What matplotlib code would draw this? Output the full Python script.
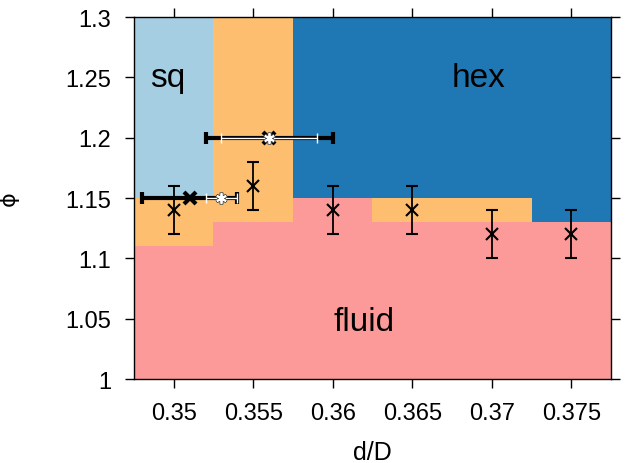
import matplotlib
matplotlib.use("Agg")
import matplotlib.pyplot as plt

plt.rcParams['font.family'] = ['Liberation Sans', 'DejaVu Sans']

# phase diagram columns (cell centres in d/D)
col_x = [0.35, 0.355, 0.36, 0.365, 0.37, 0.375]
fluid_top = [1.11, 1.13, 1.15, 1.13, 1.13, 1.13]
coex_top = [1.15, 1.30, 1.15, 1.15, 1.15, 1.13]
solid_phase = ['sq', 'sq', 'hex', 'hex', 'hex', 'hex']
phi_min, phi_max = 1.0, 1.3

colors = {'fluid': '#fb9a99', 'coex': '#fdbf6f', 'sq': '#a6cee3', 'hex': '#1f78b4'}

# vertical error bar points
pts_x = [0.35, 0.355, 0.36, 0.365, 0.37, 0.375]
pts_y = [1.14, 1.16, 1.14, 1.14, 1.12, 1.12]
pts_err = [0.02, 0.02, 0.02, 0.02, 0.02, 0.02]

# horizontal error bars (black: wide estimate, white: narrow estimate)
hb_y = [1.15, 1.20]
hb_black_x = [0.351, 0.356]
hb_black_err = [0.003, 0.004]
hb_white_x = [0.353, 0.356]
hb_white_err = [0.001, 0.003]

labels = ['sq', 'hex', 'fluid']
label_x = [0.3496, 0.3692, 0.362]
label_y = [1.243, 1.243, 1.041]

fig = plt.figure(figsize=(6.29, 4.64), dpi=100)
ax = fig.add_axes([0.2130, 0.181, 0.7584, 0.7802])

w = 0.005
fb = [f - phi_min for f in fluid_top]
ax.bar(col_x, fb, width=w, bottom=phi_min, color=colors['fluid'], linewidth=0)
cb = [c - f for c, f in zip(coex_top, fluid_top)]
ax.bar(col_x, cb, width=w, bottom=fluid_top, color=colors['coex'], linewidth=0)
sb = [phi_max - c for c in coex_top]
ax.bar(col_x, sb, width=w, bottom=coex_top, color=[colors[p] for p in solid_phase], linewidth=0)

ax.errorbar(pts_x, pts_y, yerr=pts_err, fmt='x', color='black', ecolor='black',
            elinewidth=1.3, capsize=4.5, capthick=1.3, markersize=8, mew=1.5, zorder=3)

ax.errorbar(hb_black_x, hb_y, xerr=hb_black_err, fmt='x', color='black', ecolor='black',
            elinewidth=3, capsize=4.5, capthick=3, markersize=8, mew=3, zorder=4)
ax.errorbar(hb_white_x, hb_y, xerr=hb_white_err, fmt='none', ecolor='white',
            elinewidth=1, capsize=3.5, capthick=1, zorder=5)
ax.plot(hb_white_x, hb_y, linestyle='none', marker=(6, 2, 0), markersize=8.5,
        mew=2.6, color='#555555', zorder=5)
ax.plot(hb_white_x, hb_y, linestyle='none', marker=(6, 2, 0), markersize=7.5,
        mew=1.3, color='white', zorder=6)

for t, x, y in zip(labels, label_x, label_y):
    ax.text(x, y, t, fontsize=24, ha='center', va='baseline', color='black', zorder=6)

ax.set_xlim(0.3475, 0.3775)
ax.set_ylim(phi_min, phi_max)
ax.set_xticks([0.35, 0.355, 0.36, 0.365, 0.37, 0.375])
ax.set_xticklabels(['0.35', '0.355', '0.36', '0.365', '0.37', '0.375'])
ax.set_yticks([1, 1.05, 1.1, 1.15, 1.2, 1.25, 1.3])
ax.set_yticklabels(['1', '1.05', '1.1', '1.15', '1.2', '1.25', '1.3'])
ax.tick_params(direction='out', length=6.5, width=1, labelsize=17, pad=10,
               top=True, right=True, labeltop=False, labelright=False)
for s in ax.spines.values():
    s.set_linewidth(1)
    s.set_zorder(7)

ax.set_xlabel('d/D', fontsize=18)
ax.xaxis.set_label_coords(0.5, -0.168)
ax.set_ylabel('ϕ', fontsize=16, family=['DejaVu Sans'])
ax.yaxis.set_label_coords(-0.241, 0.5)

fig.savefig('out.png', dpi=100)
